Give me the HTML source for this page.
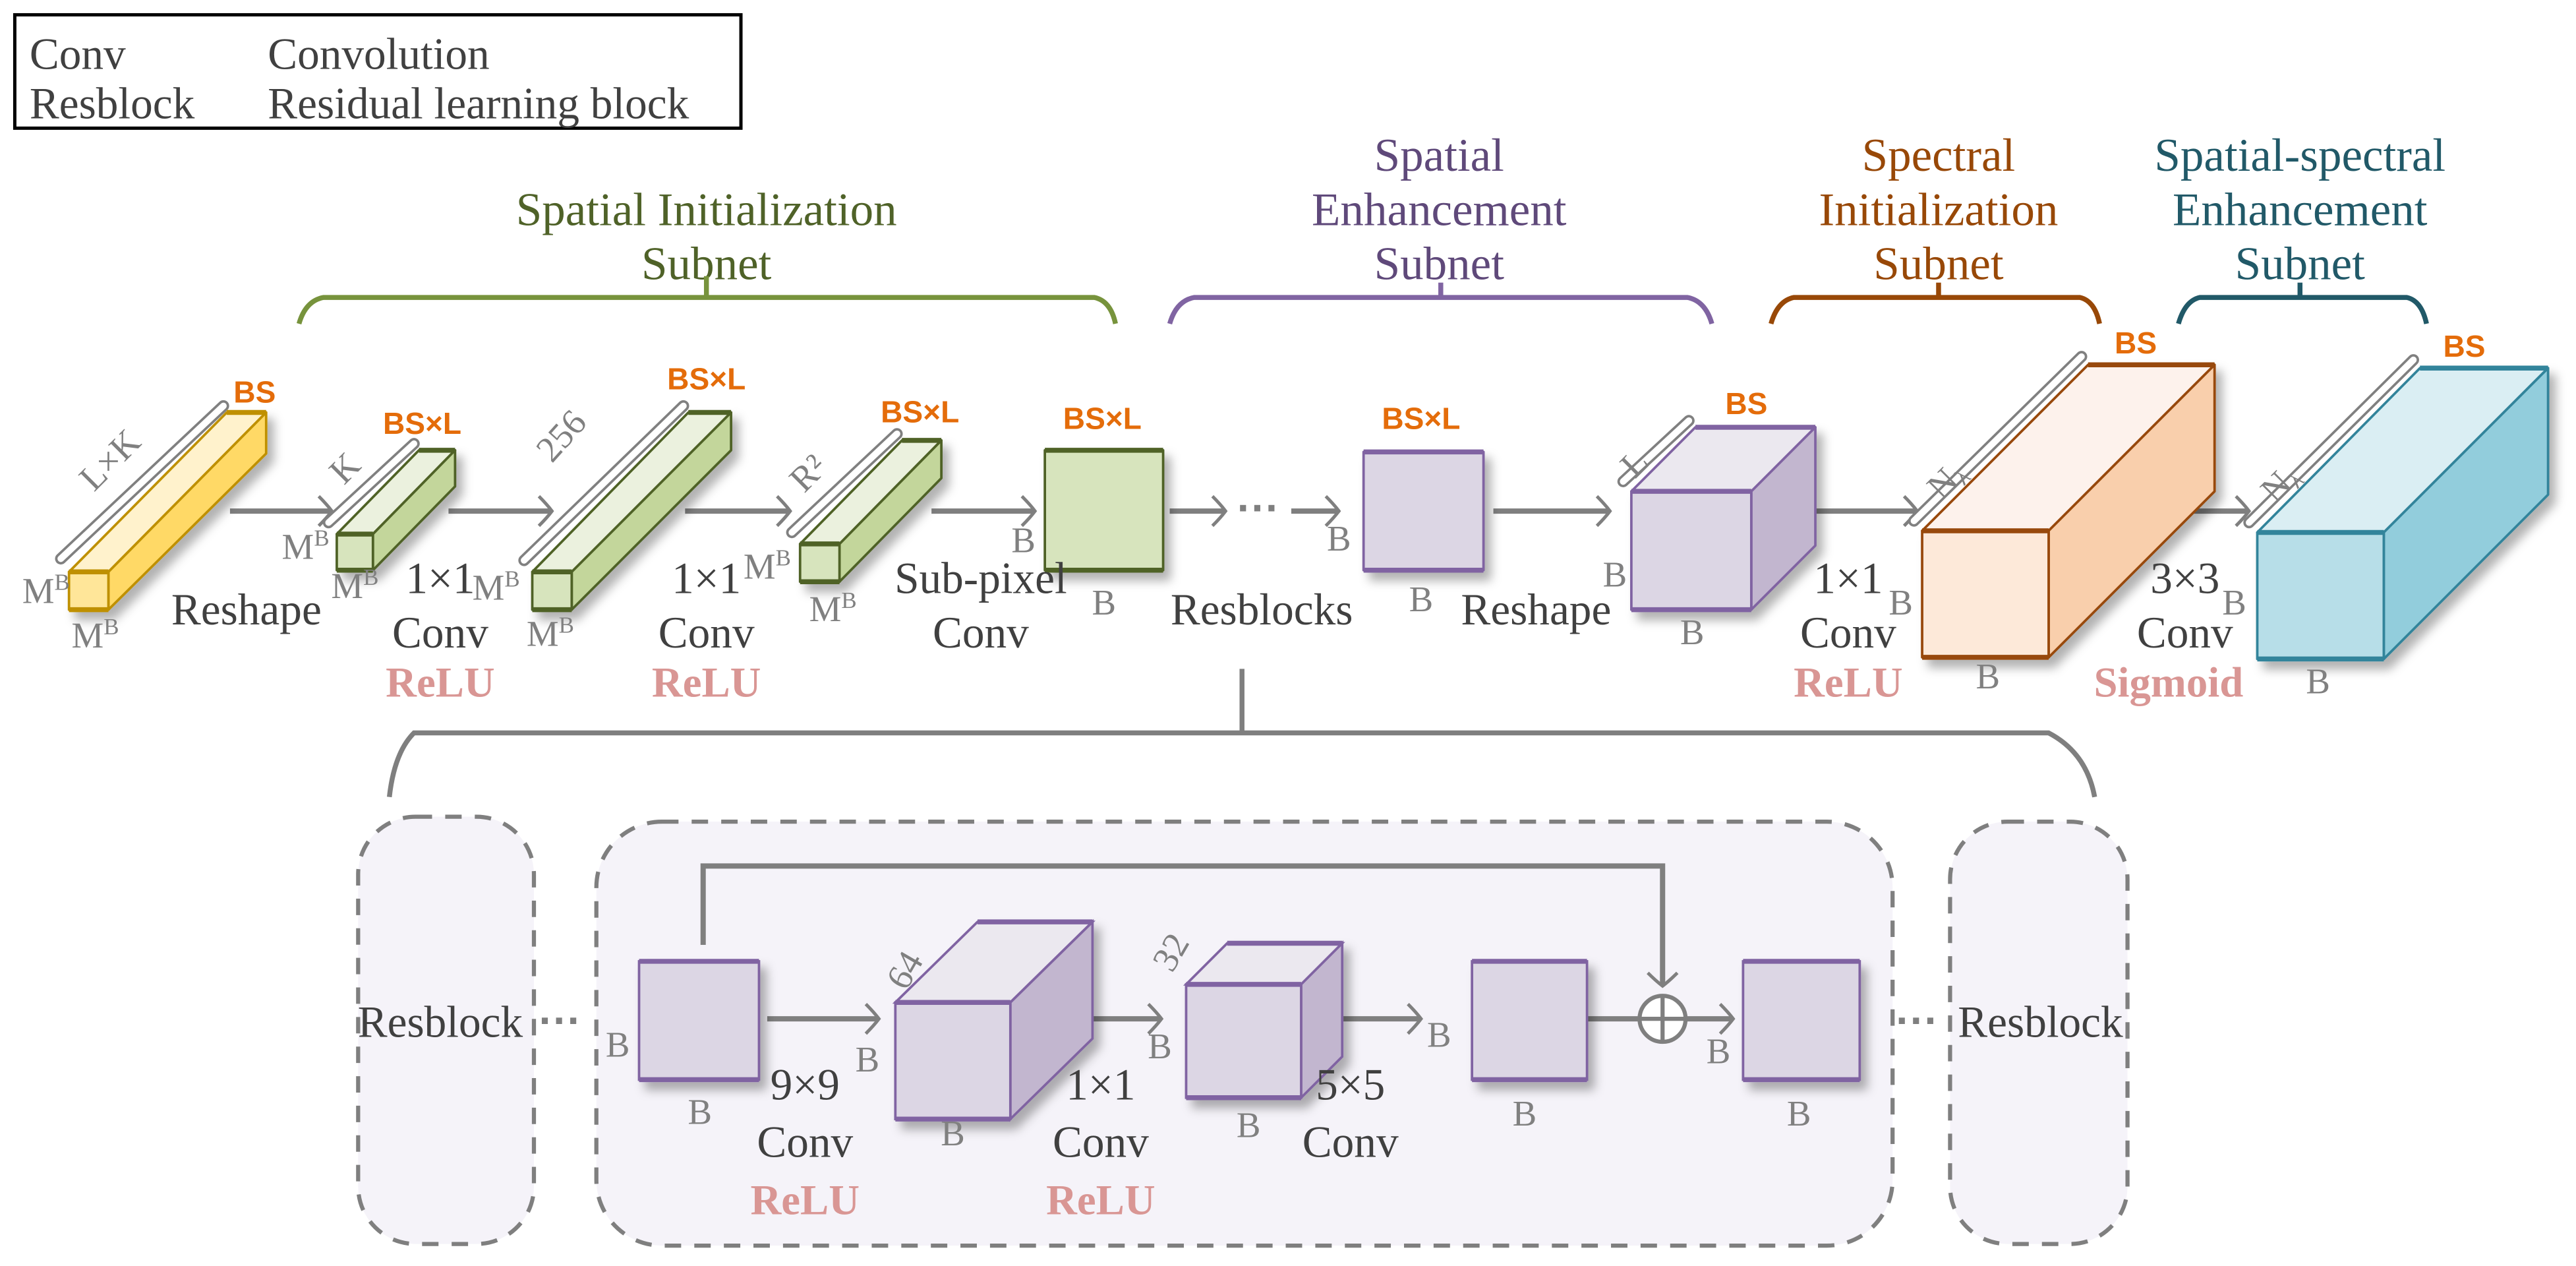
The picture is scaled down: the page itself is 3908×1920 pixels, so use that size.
<!DOCTYPE html>
<html><head><meta charset="utf-8"><style>
html,body{margin:0;padding:0;background:#fff}
svg{display:block}
.t{font-family:"Liberation Serif",serif;fill:#404040;font-size:27px;text-anchor:middle}
.g{font-family:"Liberation Serif",serif;fill:#808080;font-size:22px;text-anchor:middle}
.o{font-family:"Liberation Sans",sans-serif;fill:#e46c0a;font-size:18.5px;font-weight:bold;text-anchor:middle}
.r{font-family:"Liberation Serif",serif;fill:#d99694;font-size:26px;font-weight:bold;text-anchor:middle}
.ar{stroke:#7f7f7f;stroke-width:3.2;fill:none}
.bk1{fill:none;stroke:#808080;stroke-width:7;stroke-linecap:round}
.bk2{fill:none;stroke:#fff;stroke-width:4;stroke-linecap:round}
</style></head><body>
<svg width="3908" height="1920" viewBox="0 0 1568 770.4" preserveAspectRatio="none" xmlns="http://www.w3.org/2000/svg">
<defs>
<marker id="ah" markerWidth="12" markerHeight="20" refX="10" refY="10" orient="auto" markerUnits="userSpaceOnUse">
<path d="M2,1 Q7,6 10,10 Q7,14 2,19" stroke="#7f7f7f" stroke-width="2" fill="none"/>
</marker>
<filter id="sh" x="-20%" y="-20%" width="150%" height="150%"><feDropShadow dx="4" dy="5" stdDeviation="3" flood-color="#000" flood-opacity="0.3"/></filter>
</defs>

<!-- legend -->
<rect x="9" y="9" width="442" height="69" fill="#fff" stroke="#000" stroke-width="2"/>
<text x="18" y="42" class="t" style="text-anchor:start">Conv</text>
<text x="163" y="42" class="t" style="text-anchor:start">Convolution</text>
<text x="18" y="72" class="t" style="text-anchor:start">Resblock</text>
<text x="163" y="72" class="t" style="text-anchor:start">Residual learning block</text>

<!-- titles -->
<g font-family="Liberation Serif,serif" font-size="28.5" text-anchor="middle">
<text x="430" y="137" fill="#4f6228">Spatial Initialization</text>
<text x="430" y="170" fill="#4f6228">Subnet</text>
<text x="876" y="104" fill="#5f497a">Spatial</text>
<text x="876" y="137" fill="#5f497a">Enhancement</text>
<text x="876" y="170" fill="#5f497a">Subnet</text>
<text x="1180" y="104" fill="#984807">Spectral</text>
<text x="1180" y="137" fill="#984807">Initialization</text>
<text x="1180" y="170" fill="#984807">Subnet</text>
<text x="1400" y="104" fill="#215968">Spatial-spectral</text>
<text x="1400" y="137" fill="#215968">Enhancement</text>
<text x="1400" y="170" fill="#215968">Subnet</text>
</g>
<!-- braces -->
<g fill="none" stroke-width="3">
<path d="M182,197 Q186,183 197,181 L666,181 Q676,183 679,197 M430,181 V168" stroke="#77933c"/>
<path d="M712,197 Q716,183 727,181 L1027,181 Q1038,183 1042,197 M877,181 V172" stroke="#8064a2"/>
<path d="M1078,197 Q1082,183 1092,181 L1266,181 Q1275,183 1278,197 M1180,181 V172" stroke="#984807"/>
<path d="M1326,197 Q1330,183 1339,181 L1465,181 Q1474,183 1477,197 M1400,181 V172" stroke="#215968"/>
</g>

<!-- arrows main row -->
<g class="ar" marker-end="url(#ah)">
<line x1="140" y1="311" x2="202" y2="311"/>
<line x1="273" y1="311" x2="336" y2="311"/>
<line x1="417" y1="311" x2="481" y2="311"/>
<line x1="567" y1="311" x2="630" y2="311"/>
<line x1="712" y1="311" x2="746" y2="311"/>
<line x1="786" y1="311" x2="815" y2="311"/>
<line x1="909" y1="311" x2="980" y2="311"/>
<line x1="1096" y1="311" x2="1167" y2="311"/>
<line x1="1298" y1="311" x2="1369" y2="311"/>
</g>
<text x="766" y="318" font-family="Liberation Sans,sans-serif" font-size="26" font-weight="bold" fill="#7f7f7f" text-anchor="middle">···</text>

<!-- dimension bracket bands -->
<g>
<path class="bk1" d="M37,340 L136,247"/><path class="bk2" d="M37,340 L136,247"/>
<path class="bk1" d="M200,318 L252,270"/><path class="bk2" d="M200,318 L252,270"/>
<path class="bk1" d="M319,341 L416,247"/><path class="bk2" d="M319,341 L416,247"/>
<path class="bk1" d="M482,324 L546,264"/><path class="bk2" d="M482,324 L546,264"/>
<path class="bk1" d="M988,293 L1028,256"/><path class="bk2" d="M988,293 L1028,256"/>
<path class="bk1" d="M1165,317 L1267,217"/><path class="bk2" d="M1165,317 L1267,217"/>
<path class="bk1" d="M1369,318 L1469,219"/><path class="bk2" d="M1369,318 L1469,219"/>
<path class="bk1" d="M540,604 L590,556"/><path class="bk2" d="M540,604 L590,556"/>
<path class="bk1" d="M718,593 L743,569"/><path class="bk2" d="M718,593 L743,569"/>
</g>

<!-- 3D boxes -->
<g filter="url(#sh)" stroke-width="1.5" stroke-linejoin="round">
<g stroke="#bf9000">
<polygon points="42,348 138,251 162,251 66,348" fill="#fff2cc"/>
<polygon points="66,348 162,251 162,276 66,371" fill="#ffd966"/>
<rect x="42" y="348" width="24" height="23" fill="#ffe699"/>
<line x1="42" y1="348" x2="66" y2="348" stroke-width="3"/><line x1="138" y1="251" x2="162" y2="251" stroke-width="3"/><line x1="42" y1="371" x2="66" y2="371" stroke-width="3"/>
</g>
<g stroke="#4f6228">
<polygon points="205,325 255,274 277,274 227,325" fill="#ebf1de"/>
<polygon points="227,325 277,274 277,296 227,347" fill="#c3d69b"/>
<rect x="205" y="325" width="22" height="22" fill="#d7e4bd"/>
<line x1="205" y1="325" x2="227" y2="325" stroke-width="3"/><line x1="255" y1="274" x2="277" y2="274" stroke-width="3"/><line x1="205" y1="347" x2="227" y2="347" stroke-width="3"/>

<polygon points="324,348 419,251 445,251 348,348" fill="#ebf1de"/>
<polygon points="348,348 445,251 445,274 348,371" fill="#c3d69b"/>
<rect x="324" y="348" width="24" height="23" fill="#d7e4bd"/>
<line x1="324" y1="348" x2="348" y2="348" stroke-width="3"/><line x1="419" y1="251" x2="445" y2="251" stroke-width="3"/><line x1="324" y1="371" x2="348" y2="371" stroke-width="3"/>

<polygon points="487,331 549,268 573,268 511,331" fill="#ebf1de"/>
<polygon points="511,331 573,268 573,291 511,354" fill="#c3d69b"/>
<rect x="487" y="331" width="24" height="23" fill="#d7e4bd"/>
<line x1="487" y1="331" x2="511" y2="331" stroke-width="3"/><line x1="549" y1="268" x2="573" y2="268" stroke-width="3"/><line x1="487" y1="354" x2="511" y2="354" stroke-width="3"/>

<rect x="636" y="274" width="72" height="73" fill="#d7e4bd"/>
<line x1="636" y1="274" x2="708" y2="274" stroke-width="3"/><line x1="636" y1="347" x2="708" y2="347" stroke-width="3"/>
</g>
<g stroke="#8064a2">
<rect x="830" y="275" width="73" height="72" fill="#dcd6e4"/>
<line x1="830" y1="275" x2="903" y2="275" stroke-width="3"/><line x1="830" y1="347" x2="903" y2="347" stroke-width="3"/>

<polygon points="993,299 1032,260 1105,260 1066,299" fill="#ebe8ef"/>
<polygon points="1066,299 1105,260 1105,332 1066,371" fill="#c2b6cf"/>
<rect x="993" y="299" width="73" height="72" fill="#dcd6e4"/>
<line x1="993" y1="299" x2="1066" y2="299" stroke-width="3"/><line x1="1032" y1="260" x2="1105" y2="260" stroke-width="3"/><line x1="993" y1="371" x2="1066" y2="371" stroke-width="3"/>
</g>
<g stroke="#984807">
<polygon points="1170,323 1271,222 1348,222 1247,323" fill="#fdf2ec"/>
<polygon points="1247,323 1348,222 1348,299 1247,400" fill="#f9cfac"/>
<rect x="1170" y="323" width="77" height="77" fill="#fde9d9"/>
<line x1="1170" y1="323" x2="1247" y2="323" stroke-width="3"/><line x1="1271" y1="222" x2="1348" y2="222" stroke-width="3"/><line x1="1170" y1="400" x2="1247" y2="400" stroke-width="3"/>
</g>
<g stroke="#31849b">
<polygon points="1374,324 1473,224 1551,224 1451,324" fill="#daeef3"/>
<polygon points="1451,324 1551,224 1551,301 1451,401" fill="#92cddc"/>
<rect x="1374" y="324" width="77" height="77" fill="#b7dee8"/>
<line x1="1374" y1="324" x2="1451" y2="324" stroke-width="3"/><line x1="1473" y1="224" x2="1551" y2="224" stroke-width="3"/><line x1="1374" y1="401" x2="1451" y2="401" stroke-width="3"/>
</g>
</g>

<!-- main row labels -->
<text x="155" y="245" class="o">BS</text>
<text x="257" y="264" class="o">BS×L</text>
<text x="430" y="237" class="o">BS×L</text>
<text x="560" y="257" class="o">BS×L</text>
<text x="671" y="261" class="o">BS×L</text>
<text x="865" y="261" class="o">BS×L</text>
<text x="1063" y="252" class="o">BS</text>
<text x="1300" y="215" class="o">BS</text>
<text x="1500" y="217" class="o">BS</text>

<text class="g" transform="translate(72,285) rotate(-45)">L×K</text>
<text class="g" transform="translate(215,290) rotate(-45)">K</text>
<text class="g" transform="translate(347,270) rotate(-48)">256</text>
<text class="g" transform="translate(497,293) rotate(-45)">R²</text>
<text class="g" transform="translate(1000,287) rotate(-45)">L</text>
<text class="g" transform="translate(1190,297) rotate(-45)">N<tspan font-size="14" dy="3">λ</tspan></text>
<text class="g" transform="translate(1393,299) rotate(-45)">N<tspan font-size="14" dy="3">λ</tspan></text>

<g class="g">
<text x="28" y="367">M<tspan font-size="14" dy="-8">B</tspan></text>
<text x="58" y="394">M<tspan font-size="14" dy="-8">B</tspan></text>
<text x="186" y="340">M<tspan font-size="14" dy="-8">B</tspan></text>
<text x="216" y="364">M<tspan font-size="14" dy="-8">B</tspan></text>
<text x="302" y="365">M<tspan font-size="14" dy="-8">B</tspan></text>
<text x="335" y="393">M<tspan font-size="14" dy="-8">B</tspan></text>
<text x="467" y="352">M<tspan font-size="14" dy="-8">B</tspan></text>
<text x="507" y="378">M<tspan font-size="14" dy="-8">B</tspan></text>
<text x="623" y="336">B</text>
<text x="672" y="374">B</text>
<text x="815" y="335">B</text>
<text x="865" y="372">B</text>
<text x="983" y="357">B</text>
<text x="1030" y="392">B</text>
<text x="1157" y="374">B</text>
<text x="1210" y="419">B</text>
<text x="1360" y="374">B</text>
<text x="1411" y="422">B</text>
</g>

<text x="150" y="380" class="t">Reshape</text>
<text x="268" y="361" class="t">1×1</text><text x="268" y="394" class="t">Conv</text><text x="268" y="424" class="r">ReLU</text>
<text x="430" y="361" class="t">1×1</text><text x="430" y="394" class="t">Conv</text><text x="430" y="424" class="r">ReLU</text>
<text x="597" y="361" class="t">Sub-pixel</text><text x="597" y="394" class="t">Conv</text>
<text x="768" y="380" class="t">Resblocks</text>
<text x="935" y="380" class="t">Reshape</text>
<text x="1125" y="361" class="t">1×1</text><text x="1125" y="394" class="t">Conv</text><text x="1125" y="424" class="r">ReLU</text>
<text x="1330" y="361" class="t">3×3</text><text x="1330" y="394" class="t">Conv</text><text x="1320" y="424" class="r">Sigmoid</text>

<!-- lower brace -->
<path d="M237,485 Q240,458 252,446 L1247,446 Q1270,458 1275,485 M756,446 V407" stroke="#7f7f7f" stroke-width="3" fill="none"/>

<!-- dashed boxes -->
<g fill="#f5f3f9" stroke="#7f7f7f" stroke-width="2.5" stroke-dasharray="10,8">
<rect x="218" y="497" width="107" height="260" rx="35"/>
<rect x="363" y="500" width="789" height="258" rx="40"/>
<rect x="1187" y="500" width="108" height="257" rx="35"/>
</g>
<text x="268" y="631" class="t">Resblock</text>
<text x="1242" y="631" class="t">Resblock</text>
<text x="341" y="630" font-family="Liberation Sans,sans-serif" font-size="26" font-weight="bold" fill="#7f7f7f" text-anchor="middle">···</text>
<text x="1167" y="630" font-family="Liberation Sans,sans-serif" font-size="26" font-weight="bold" fill="#7f7f7f" text-anchor="middle">···</text>

<!-- skip connection -->
<path d="M428,575 V527 H1012 V600" class="ar" marker-end="url(#ah)"/>
<g class="ar" marker-end="url(#ah)">
<line x1="467" y1="620" x2="535" y2="620"/>
<line x1="643" y1="620" x2="707" y2="620"/>
<line x1="800" y1="620" x2="865" y2="620"/>
<line x1="966" y1="620" x2="1055" y2="620"/>
</g>
<circle cx="1012" cy="620" r="14" fill="#fff" stroke="#7f7f7f" stroke-width="2.5"/>
<path d="M1012,606 V634 M998,620 H1026" stroke="#7f7f7f" stroke-width="2.5"/>

<g filter="url(#sh)" stroke="#8064a2" stroke-width="1.5">
<rect x="389" y="585" width="73" height="72" fill="#dcd6e4"/>
<line x1="389" y1="585" x2="462" y2="585" stroke-width="3"/><line x1="389" y1="657" x2="462" y2="657" stroke-width="3"/>

<polygon points="545,610 595,561 665,561 615,610" fill="#ebe8ef"/>
<polygon points="615,610 665,561 665,632 615,681" fill="#c2b6cf"/>
<rect x="545" y="610" width="70" height="71" fill="#dcd6e4"/>
<line x1="545" y1="610" x2="615" y2="610" stroke-width="3"/><line x1="595" y1="561" x2="665" y2="561" stroke-width="3"/><line x1="545" y1="681" x2="615" y2="681" stroke-width="3"/>

<polygon points="722,599 747,574 817,574 792,599" fill="#ebe8ef"/>
<polygon points="792,599 817,574 817,643 792,668" fill="#c2b6cf"/>
<rect x="722" y="599" width="70" height="69" fill="#dcd6e4"/>
<line x1="722" y1="599" x2="792" y2="599" stroke-width="3"/><line x1="747" y1="574" x2="817" y2="574" stroke-width="3"/><line x1="722" y1="668" x2="792" y2="668" stroke-width="3"/>

<rect x="896" y="585" width="70" height="72" fill="#dcd6e4"/>
<line x1="896" y1="585" x2="966" y2="585" stroke-width="3"/><line x1="896" y1="657" x2="966" y2="657" stroke-width="3"/>
<rect x="1061" y="585" width="71" height="72" fill="#dcd6e4"/>
<line x1="1061" y1="585" x2="1132" y2="585" stroke-width="3"/><line x1="1061" y1="657" x2="1132" y2="657" stroke-width="3"/>
</g>
<text class="g" transform="translate(557,594) rotate(-60)">64</text>
<text class="g" transform="translate(719,583) rotate(-60)">32</text>
<g class="g">
<text x="376" y="643">B</text><text x="426" y="684">B</text>
<text x="528" y="652">B</text><text x="580" y="697">B</text>
<text x="706" y="644">B</text><text x="760" y="692">B</text>
<text x="876" y="637">B</text><text x="928" y="685">B</text>
<text x="1046" y="647">B</text><text x="1095" y="685">B</text>
</g>
<text x="490" y="669" class="t">9×9</text><text x="490" y="704" class="t">Conv</text><text x="490" y="739" class="r">ReLU</text>
<text x="670" y="669" class="t">1×1</text><text x="670" y="704" class="t">Conv</text><text x="670" y="739" class="r">ReLU</text>
<text x="822" y="669" class="t">5×5</text><text x="822" y="704" class="t">Conv</text>
</svg>
</body></html>
